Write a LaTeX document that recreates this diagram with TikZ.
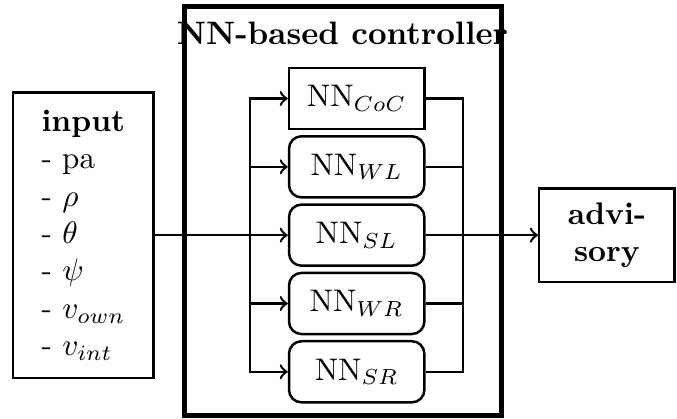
\documentclass[tikz,border=0pt]{standalone}
\begin{document}
\begin{tikzpicture}[-, thick,
    nnbox/.style={draw, rounded corners, minimum width=43.4pt, minimum height=19.6pt, inner sep=0pt}]
    \useasboundingbox (-4.02, -2.07) rectangle (3.61, 2.65);

    \node[draw, ultra thick, minimum width=101.6pt, minimum height=131.1pt](ctrl) at (-0.15, 0.27) {};
    \node[font=\fontsize{10.4pt}{12pt}\selectfont\bfseries](ctrl_title) at (-0.16, 2.28) {NN-based controller};

    \node[nnbox, rounded corners=0pt](NN_CoC) at (0, 1.54) {NN$_{CoC}$};
    \node[nnbox](NN_WL) at (0, 0.77) {NN$_{WL}$};
    \node[nnbox](NN_SL) at (0, 0) {NN$_{SL}$};
    \node[nnbox](NN_WR) at (0, -0.77) {NN$_{WR}$};
    \node[nnbox](NN_SR) at (0, -1.54) {NN$_{SR}$};

    \node[draw, align=left, minimum width=45pt, minimum height=91.5pt](input) at (-3.08, 0)
        {\textbf{input}\\- pa\\- $\rho$\\- $\theta$\\- $\psi$\\- $v_{own}$\\- $v_{int}$};
    \node[draw, align=center, font=\bfseries, minimum width=43.4pt, minimum height=30pt](advisory) at (2.82, 0)
        {advi-\\sory};

    \coordinate (L_top) at (-1.2, 1.54);
    \coordinate (L_bot) at (-1.2, -1.54);
    \coordinate (R_top) at (1.2, 1.54);
    \coordinate (R_bot) at (1.2, -1.54);
    \draw[line cap=rect] (L_top) -- (L_bot);
    \draw[line cap=rect] (R_top) -- (R_bot);

    \path[->] (input) edge (NN_SL);
    \path[->] (L_top) edge (NN_CoC.west);
    \path[->] (L_top |- NN_WL.west) edge (NN_WL.west);
    \path[->] (L_top |- NN_WR.west) edge (NN_WR.west);
    \path[->] (L_bot) edge (NN_SR.west);

    \path (NN_CoC.east) edge (R_top);
    \path (NN_WL.east) edge (NN_WL.east -| R_top);
    \path (NN_WR.east) edge (NN_WR.east -| R_top);
    \path (NN_SR.east) edge (R_bot);
    \path[->] (NN_SL) edge (advisory);
\end{tikzpicture}
\end{document}
